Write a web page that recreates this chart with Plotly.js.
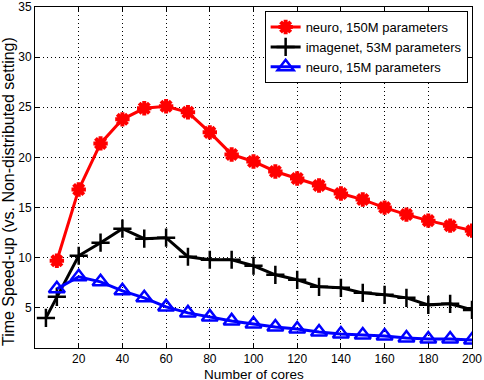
<!DOCTYPE html>
<html>
<head>
<meta charset="utf-8">
<script src="https://cdn.plot.ly/plotly-3.0.1.min.js"></script>
<style>
  html, body { margin: 0; padding: 0; background: #fff; }
  #chart { width: 484px; height: 380px; }
</style>
</head>
<body>
<div id="chart"></div>
<script>
// cores on the x axis
var coresRed = [10, 20, 30, 40, 50, 60, 70, 80, 90, 100, 110, 120, 130, 140, 150, 160, 170, 180, 190, 200];
var coresBlack = [5, 10, 20, 30, 40, 50, 60, 70, 80, 90, 100, 110, 120, 130, 140, 150, 160, 170, 180, 190, 200];
var coresBlue = [10, 20, 30, 40, 50, 60, 70, 80, 90, 100, 110, 120, 130, 140, 150, 160, 170, 180, 190, 200];

// speed-up values
var neuro150 = [9.7, 16.8, 21.4, 23.8, 24.9, 25.1, 24.5, 22.5, 20.3, 19.6, 18.6, 17.9, 17.2, 16.4, 15.8, 15.0, 14.3, 13.7, 13.2, 12.7];
var imagenet53 = [4.0, 6.1, 10.2, 11.5, 12.9, 11.9, 12.0, 10.1, 9.8, 9.8, 9.2, 8.3, 7.8, 7.1, 7.0, 6.5, 6.3, 6.0, 5.3, 5.4, 4.8];
var neuro15 = [6.9, 8.1, 7.6, 6.7, 6.0, 5.1, 4.5, 4.1, 3.7, 3.4, 3.1, 2.9, 2.6, 2.4, 2.3, 2.2, 2.0, 1.9, 1.9, 1.8];

var seriesNames = ['neuro, 150M parameters', 'imagenet, 53M parameters', 'neuro, 15M parameters'];
var xTicks = [20, 40, 60, 80, 100, 120, 140, 160, 180, 200];
var yTicks = [5, 10, 15, 20, 25, 30, 35];

var font = 'Liberation Sans, Arial, sans-serif';

var traceRed = {
    x: coresRed,
    y: neuro150,
    name: seriesNames[0],
    mode: 'lines+markers',
    line: {color: '#ff0000', width: 3},
    marker: {symbol: 'asterisk-open', size: 12, color: '#ff0000', line: {color: '#ff0000', width: 4}}
};

var traceBlack = {
    x: coresBlack,
    y: imagenet53,
    name: seriesNames[1],
    mode: 'lines+markers',
    line: {color: '#000000', width: 3},
    marker: {symbol: 'cross-thin-open', size: 13, color: '#000000', line: {color: '#000000', width: 2.5}}
};

var traceBlue = {
    x: coresBlue,
    y: neuro15,
    name: seriesNames[2],
    mode: 'lines+markers',
    line: {color: '#0000ff', width: 3},
    marker: {symbol: 'triangle-up-open', size: 14, color: '#0000ff', line: {color: '#0000ff', width: 2.5}}
};

var axisCommon = {
    showline: true,
    linecolor: '#000',
    linewidth: 1,
    mirror: 'ticks',
    ticks: 'inside',
    ticklen: 5,
    tickcolor: '#000',
    showgrid: true,
    gridcolor: '#000',
    gridwidth: 1,
    griddash: '1px,3px',
    zeroline: false,
    ticklabeloverflow: 'allow',
    tickfont: {family: font, size: 12, color: '#000'}
};

var layout = {
    width: 484,
    height: 380,
    margin: {l: 35, r: 12, t: 7, b: 32},
    paper_bgcolor: '#fff',
    plot_bgcolor: '#fff',
    font: {family: font, size: 13, color: '#000'},
    xaxis: Object.assign({}, axisCommon, {
        range: [0, 200],
        tickvals: xTicks
    }),
    yaxis: Object.assign({}, axisCommon, {
        range: [1, 35],
        tickvals: yTicks
    }),
    annotations: [{
        text: 'Number of cores',
        xref: 'paper', yref: 'paper',
        x: 0.5, y: -0.0748,
        xanchor: 'center', yanchor: 'middle',
        height: 12,
        showarrow: false,
        font: {family: font, size: 13.5, color: '#000'}
    }, {
        text: 'Time Speed-up (vs. Non-distributed setting)',
        xref: 'paper', yref: 'paper',
        x: -0.062, y: 0.46,
        xanchor: 'center', yanchor: 'middle',
        textangle: -90,
        showarrow: false,
        font: {family: font, size: 16, color: '#000'}
    }],
    legend: {
        x: 0.99, y: 0.988,
        xanchor: 'right', yanchor: 'top',
        bgcolor: '#fff',
        bordercolor: '#000',
        borderwidth: 1,
        font: {family: font, size: 13, color: '#000'},
        tracegroupgap: 0
    },
    showlegend: true
};

Plotly.newPlot('chart', [traceRed, traceBlack, traceBlue], layout, {displayModeBar: false, staticPlot: true});
</script>
</body>
</html>
